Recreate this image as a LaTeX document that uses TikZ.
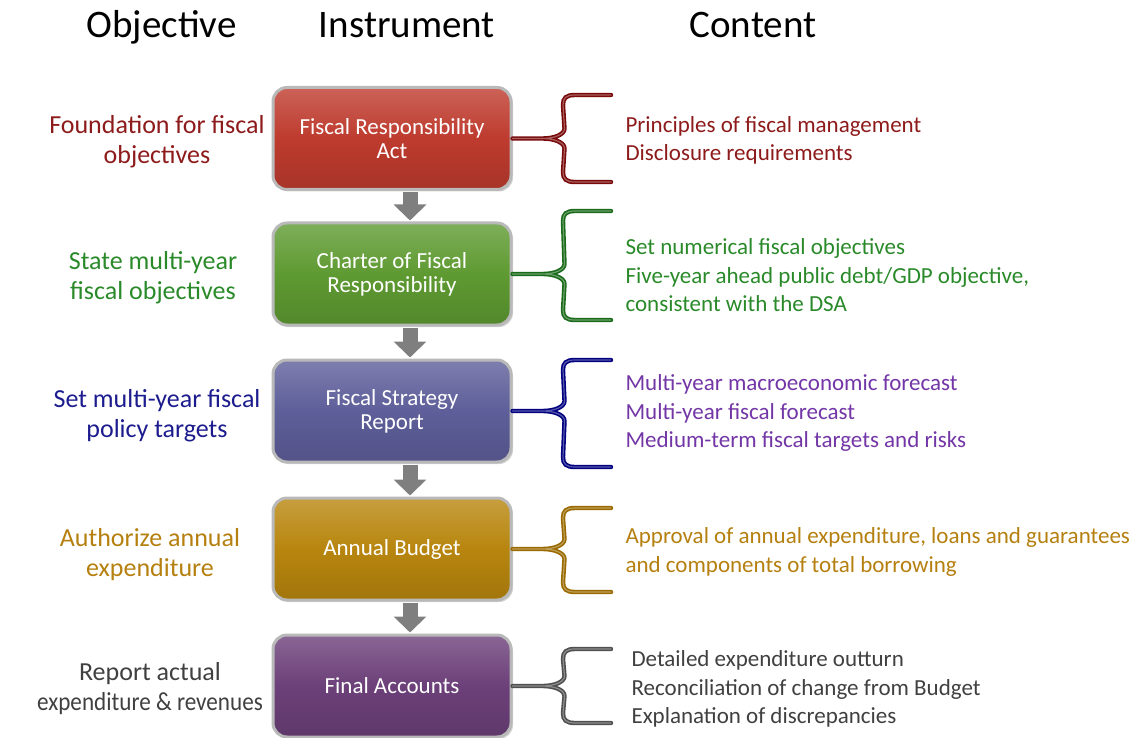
\documentclass[tikz,border=0pt]{standalone}
\usepackage{fontspec}
\setmainfont{Carlito}
\usetikzlibrary{arrows.meta,calc,shadows}
\definecolor{rbox}{HTML}{BE3B2E}
\definecolor{gbox}{HTML}{5E9A31}
\definecolor{bbox}{HTML}{5E5E9A}
\definecolor{obox}{HTML}{B8860E}
\definecolor{pbox}{HTML}{6C4079}
\definecolor{rtxt}{HTML}{8E1B1B}
\definecolor{gtxt}{HTML}{2A8A2A}
\definecolor{btxt}{HTML}{1C1C8E}
\definecolor{ptxt}{HTML}{7336A6}
\definecolor{otxt}{HTML}{B5800F}
\definecolor{ktxt}{HTML}{404040}
\definecolor{rbr}{HTML}{7A0A0A}
\definecolor{gbr}{HTML}{1A6B1A}
\definecolor{bbr}{HTML}{000080}
\definecolor{obr}{HTML}{9A6A00}
\definecolor{kbr}{HTML}{505050}
\definecolor{arrgray}{HTML}{7F7F7F}
\newcommand\bracefor[4]{%
  \draw[bracestyle=#4] (#1.east) -- ++(30,0) coordinate (#1s)
    .. controls +(12,0) and +(0,6) .. ++(22,-10)
    -- (563,{#2+10}) .. controls (563,{#2+3}) and (566,#2) .. (575,#2) -- (611,#2)
    (#1s) .. controls +(12,0) and +(0,-6) .. ++(22,10)
    -- (563,{#3-10}) .. controls (563,{#3-3}) and (566,#3) .. (575,#3) -- (611,#3);}
\begin{document}
\begin{tikzpicture}[x=1pt,y=-1pt,
  header/.style={anchor=base,font=\fontsize{39}{44}\selectfont},
  objtext/.style={align=center,font=\fontsize{26}{30}\selectfont},
  contenttext/.style={anchor=west,align=left,font=\fontsize{23}{28.5}\selectfont},
  instr/.style={rounded corners=14pt,minimum width=238pt,minimum height=102pt,
    text=white,align=center,font=\fontsize{23}{24}\selectfont,
    draw=gray!55,line width=3pt,
    top color=#1!80!white,bottom color=#1!88!black,middle color=#1,
    drop shadow={shadow xshift=2pt,shadow yshift=-2pt,opacity=0.35}},
  flow/.style={draw=arrgray,line width=15pt,-{Triangle[width=32pt,length=16pt]}},
  bracestyle/.style={draw=#1,double=#1!65!white,double distance=1.2pt,line width=1.6pt,line cap=round}
]
\path[use as bounding box] (0,0) rectangle (1138,738);

\node[header] (h1) at (161.5,38) {Objective};
\node[header] (h2) at (407,38) {Instrument};
\node[header] (h3) at (753,38) {Content};

\node[instr=rbox] (b1) at (392,138.5) {Fiscal Responsibility\\Act};
\node[instr=gbox] (b2) at (392,274) {Charter of Fiscal\\Responsibility};
\node[instr=bbox] (b3) at (392,411) {Fiscal Strategy\\Report};
\node[instr=obox] (b4) at (392,549) {Annual Budget};
\node[instr=pbox] (b5) at (392,686) {Final Accounts};

\draw[flow] ($(b1.south)+(18,1)$) -- ($(b2.north)+(18,-1)$);
\draw[flow] ($(b2.south)+(18,1)$) -- ($(b3.north)+(18,-1)$);
\draw[flow] ($(b3.south)+(18,1)$) -- ($(b4.north)+(18,-1)$);
\draw[flow] ($(b4.south)+(18,1)$) -- ($(b5.north)+(18,-1)$);

\node[objtext,text=rtxt] (o1) at (157,141.5) {Foundation for fiscal\\objectives};
\node[objtext,text=gtxt] (o2) at (153,277.5) {State multi-year\\fiscal objectives};
\node[objtext,text=btxt] (o3) at (157,415.5) {Set multi-year fiscal\\policy targets};
\node[objtext,text=otxt] (o4) at (150,554.5) {Authorize annual\\expenditure};
\node[objtext,text=ktxt] (o5) at (150,688.5) {Report actual\\\scalebox{0.89}[1]{expenditure \& revenues}};

\bracefor{b1}{95}{182}{rbr}
\bracefor{b2}{211}{320}{gbr}
\bracefor{b3}{360}{467}{bbr}
\bracefor{b4}{508}{592}{obr}
\bracefor{b5}{649}{723}{kbr}

\node[contenttext,text=rtxt] (c1) at (622,140.5) {Principles of fiscal management\\Disclosure requirements};
\node[contenttext,text=gtxt] (c2) at (622,275.5) {Set numerical fiscal objectives\\Five-year ahead public debt/GDP objective,\\consistent with the DSA};
\node[contenttext,text=ptxt] (c3) at (622,413) {Multi-year macroeconomic forecast\\Multi-year fiscal forecast\\Medium-term fiscal targets and risks};
\node[contenttext,text=otxt] (c4) at (622,552) {Approval of annual expenditure, loans and guarantees\\and components of total borrowing};
\node[contenttext,text=ktxt] (c5) at (628,689) {Detailed expenditure outturn\\Reconciliation of change from Budget\\Explanation of discrepancies};
\end{tikzpicture}
\end{document}
